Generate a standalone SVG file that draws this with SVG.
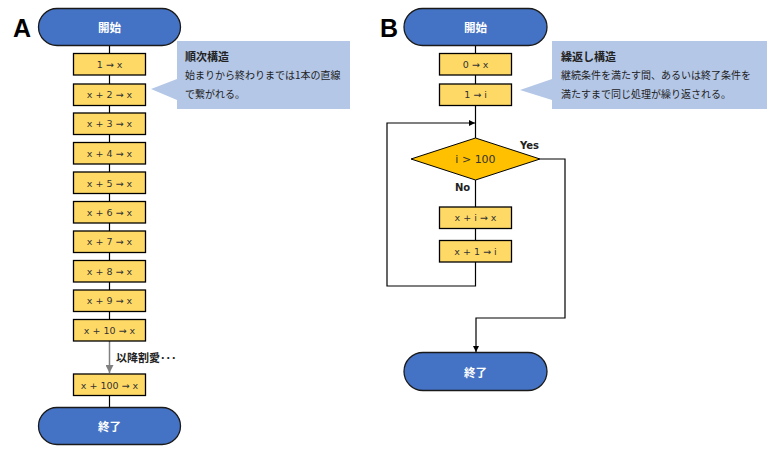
<svg xmlns="http://www.w3.org/2000/svg" width="780" height="456" viewBox="0 0 780 456">
<defs>
<style>
.term{fill:#4472C4;stroke:#1a1a1a;stroke-width:1.3}
.box{fill:#FFD966;stroke:#000;stroke-width:1.3}
.dia{fill:#FFC000;stroke:#000;stroke-width:1}
.call{fill:#B4C7E7}
.tt{font-family:"Noto Sans CJK JP","Noto Sans",sans-serif;font-weight:bold;font-size:11.5px;fill:#fff;text-anchor:middle;dominant-baseline:central}
.bt{font-family:"DejaVu Sans",sans-serif;font-size:9.5px;fill:#333;text-anchor:middle;dominant-baseline:central}
.dt{font-family:"DejaVu Sans",sans-serif;font-size:11px;fill:#333;text-anchor:middle;dominant-baseline:central}
.ct{font-family:"Noto Sans CJK JP",sans-serif;font-size:10px;fill:#222}
.ch{font-family:"Noto Sans CJK JP",sans-serif;font-size:11px;font-weight:bold;fill:#222}
.lbl{font-family:"DejaVu Sans",sans-serif;font-size:10px;font-weight:bold;fill:#222}
.big{font-family:"Liberation Sans",Arial,sans-serif;font-size:25px;font-weight:bold;fill:#000}
.ln{fill:none;stroke:#000;stroke-width:1.2}
.gl{fill:none;stroke:#808080;stroke-width:1.5}
</style>
<marker id="ah" viewBox="0 0 10 10" refX="10" refY="5" markerWidth="6" markerHeight="6" markerUnits="userSpaceOnUse" orient="auto"><path d="M0,0L10,5L0,10z" fill="#000"/></marker>
<marker id="ahg" viewBox="0 0 10 10" refX="10" refY="5" markerWidth="8" markerHeight="8" markerUnits="userSpaceOnUse" orient="auto"><path d="M0,0L10,5L0,10z" fill="#808080"/></marker>
</defs>

<text class="big" x="13" y="37">A</text>
<text class="big" x="380" y="37">B</text>

<g id="connectors">
<path class="ln" d="M109.5,45V53M109.5,75V84M109.5,105V113M109.5,134V142M109.5,164V172M109.5,194V201M109.5,223V231M109.5,253V260M109.5,282V290M109.5,311V320"/>
<path class="gl" d="M109.5,341V373" marker-end="url(#ahg)"/>
<path class="ln" d="M109.5,396V407"/>
<path class="ln" d="M475.5,45V53M475.5,75V84M475.5,105V138M475.5,180V207M475.5,228V241"/>
<path class="ln" d="M475.5,262V286H387V123H475" marker-end="url(#ah)"/>
<path class="ln" d="M540,159H565V318H476V352" marker-end="url(#ah)"/>
</g>

<g id="callout-a">
<path class="call" d="M177,41H350V109H177V100L151,89L177,79Z"/>
<text class="ch" x="185" y="61">順次構造</text>
<text class="ct" x="185" y="79">始まりから終わりまでは1本の直線</text>
<text class="ct" x="185" y="98">で繋がれる。</text>
</g>
<g id="callout-b">
<path class="call" d="M552,41H767V109H552V100L520,90L552,79Z"/>
<text class="ch" x="561" y="61">繰返し構造</text>
<text class="ct" x="561" y="79">継続条件を満たす間、あるいは終了条件を</text>
<text class="ct" x="561" y="98">満たすまで同じ処理が繰り返される。</text>
</g>

<g id="a-start"><rect class="term" x="38.5" y="8.5" width="142" height="37" rx="18.5"/><text class="tt" x="109.5" y="27">開始</text></g>
<g id="a-1"><rect class="box" x="73.5" y="53.5" width="72" height="21.5"/><text class="bt" x="109.5" y="64">1 → x</text></g>
<g id="a-2"><rect class="box" x="73.5" y="84" width="72" height="21.5"/><text class="bt" x="109.5" y="94.5">x + 2 → x</text></g>
<g id="a-3"><rect class="box" x="73.5" y="113" width="72" height="21.5"/><text class="bt" x="109.5" y="123.5">x + 3 → x</text></g>
<g id="a-4"><rect class="box" x="73.5" y="142.5" width="72" height="21.5"/><text class="bt" x="109.5" y="153">x + 4 → x</text></g>
<g id="a-5"><rect class="box" x="73.5" y="172" width="72" height="21.5"/><text class="bt" x="109.5" y="183">x + 5 → x</text></g>
<g id="a-6"><rect class="box" x="73.5" y="201.5" width="72" height="21.5"/><text class="bt" x="109.5" y="212">x + 6 → x</text></g>
<g id="a-7"><rect class="box" x="73.5" y="231" width="72" height="21.5"/><text class="bt" x="109.5" y="241.5">x + 7 → x</text></g>
<g id="a-8"><rect class="box" x="73.5" y="260.5" width="72" height="21.5"/><text class="bt" x="109.5" y="271">x + 8 → x</text></g>
<g id="a-9"><rect class="box" x="73.5" y="290" width="72" height="21.5"/><text class="bt" x="109.5" y="300.5">x + 9 → x</text></g>
<g id="a-10"><rect class="box" x="73.5" y="319.5" width="72" height="21.5"/><text class="bt" x="109.5" y="330">x + 10 → x</text></g>
<g id="a-note"><text class="ch" x="116" y="362">以降割愛･･･</text></g>
<g id="a-100"><rect class="box" x="73.5" y="374" width="72" height="21.5"/><text class="bt" x="109.5" y="385">x + 100 → x</text></g>
<g id="a-end"><rect class="term" x="38.5" y="407.5" width="142" height="37" rx="18.5"/><text class="tt" x="109.5" y="426">終了</text></g>

<g id="b-start"><rect class="term" x="404" y="8.5" width="143" height="37" rx="18.5"/><text class="tt" x="475.5" y="27">開始</text></g>
<g id="b-1"><rect class="box" x="439.5" y="53.5" width="72" height="21.5"/><text class="bt" x="475.5" y="64">0 → x</text></g>
<g id="b-2"><rect class="box" x="439.5" y="84" width="72" height="21.5"/><text class="bt" x="475.5" y="94.5">1 → i</text></g>
<g id="b-cond"><path class="dia" d="M475.5,138L540,159L475.5,180L411,159Z"/><text class="dt" x="475.5" y="159">i &gt; 100</text></g>
<g id="b-yes"><text class="lbl" x="520" y="149">Yes</text></g>
<g id="b-no"><text class="lbl" x="455" y="191">No</text></g>
<g id="b-3"><rect class="box" x="439.5" y="207" width="72" height="21.5"/><text class="bt" x="475.5" y="217.5">x + i → x</text></g>
<g id="b-4"><rect class="box" x="439.5" y="240.5" width="72" height="21.5"/><text class="bt" x="475.5" y="251">x + 1 → i</text></g>
<g id="b-end"><rect class="term" x="404" y="352.5" width="143" height="38" rx="19"/><text class="tt" x="475.5" y="371.5">終了</text></g>
</svg>
